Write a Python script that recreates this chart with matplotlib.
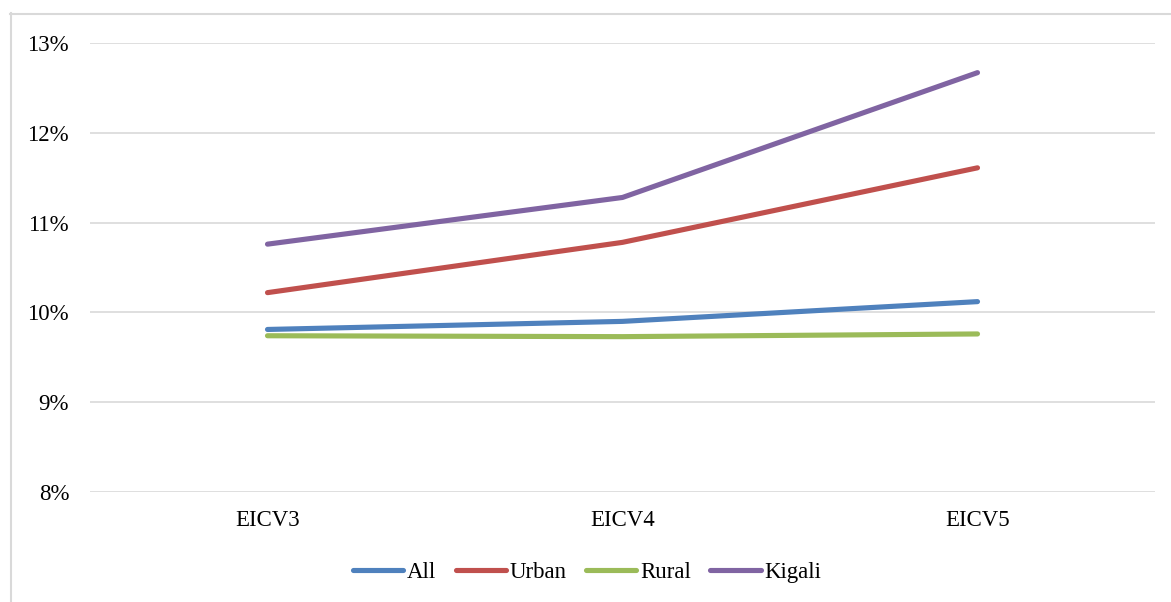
import matplotlib
matplotlib.use("Agg")
import matplotlib.pyplot as plt
from matplotlib.lines import Line2D
from matplotlib.ticker import FuncFormatter

# Survey rounds and the share for each group (percent)
rounds = ["EICV3", "EICV4", "EICV5"]
all_pct = [9.81, 9.90, 10.12]
urban_pct = [10.22, 10.78, 11.61]
rural_pct = [9.74, 9.73, 9.76]
kigali_pct = [10.76, 11.28, 12.67]

series_names = ["All", "Urban", "Rural", "Kigali"]
series_values = [all_pct, urban_pct, rural_pct, kigali_pct]
series_colors = ["#4F81BD", "#C0504D", "#9BBB59", "#8064A2"]

y_ticks = [8, 9, 10, 11, 12, 13]

plt.rcParams["font.family"] = ["Liberation Serif", "DejaVu Serif"]
FS = 16.5

W, H = 1171, 602
fig = plt.figure(figsize=(W / 100, H / 100), dpi=100)
ax = fig.add_axes([90 / W, 1 - 492 / H, (1155 - 90) / W, (492 - 43) / H])

x = list(range(len(rounds)))
for name, vals, col in zip(series_names, series_values, series_colors):
    ax.plot(x, vals, color=col, lw=3.7, solid_capstyle="round",
            solid_joinstyle="round", label=name, zorder=3)

ax.set_xlim(-0.5, len(rounds) - 0.5)
ax.set_ylim(y_ticks[0], y_ticks[-1])
ax.set_yticks(y_ticks)
ax.yaxis.set_major_formatter(FuncFormatter(lambda v, p: f"{v:.0f}%"))
ax.set_xticks(x)
ax.set_xticklabels(rounds)
ax.grid(axis="y", color="#D9D9D9", lw=1.2, zorder=0)
ax.set_axisbelow(True)
for s in ax.spines.values():
    s.set_visible(False)
ax.tick_params(axis="both", length=0, labelsize=FS, colors="#000000")
ax.tick_params(axis="y", pad=15)
ax.tick_params(axis="x", pad=13)

handles = [Line2D([0], [0], color=c, lw=3.7, solid_capstyle="round")
           for c in series_colors]
fig.legend(handles, series_names, loc="center", bbox_to_anchor=(587 / W, 1 - 572 / H),
           ncol=4, frameon=False, fontsize=FS, handlelength=2.2,
           handletextpad=0.15, columnspacing=0.85)

# Chart frame (left and top edges)
frame_col = "#D9D9D9"
fig.add_artist(Line2D([10.5 / W, 10.5 / W], [0, 1 - 13 / H], color=frame_col,
                      lw=1.5, transform=fig.transFigure))
fig.add_artist(Line2D([10 / W, 1], [1 - 13.5 / H, 1 - 13.5 / H], color=frame_col,
                      lw=1.5, transform=fig.transFigure))

fig.savefig("out.png", dpi=100)
